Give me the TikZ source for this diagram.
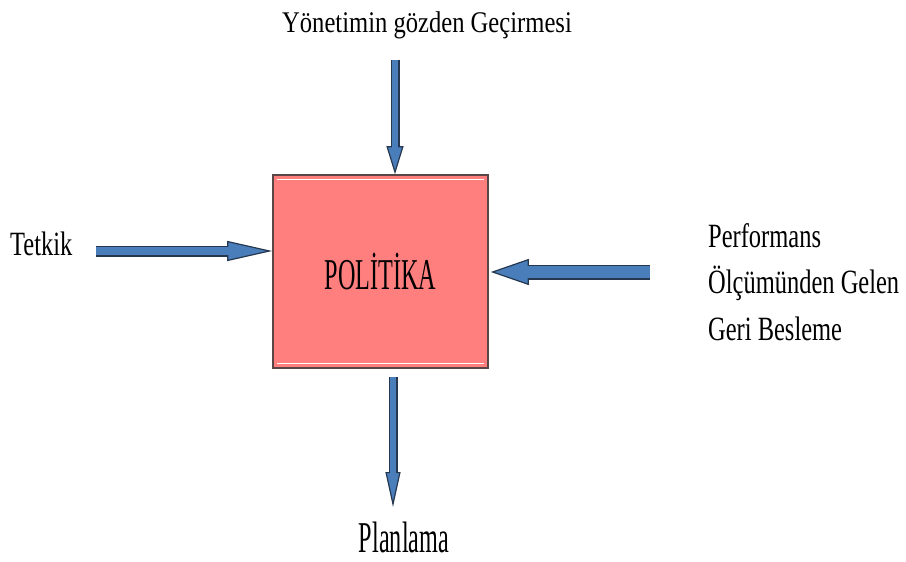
\documentclass[tikz,border=0pt]{standalone}
\usepackage{fontspec}
\setmainfont{Liberation Serif}
\newfontfamily\widefont[FakeStretch=0.82]{Liberation Serif}
\newfontfamily\condfont[FakeStretch=0.72]{Liberation Serif}
\newfontfamily\slimfont[FakeStretch=0.55]{Liberation Serif}
\usetikzlibrary{arrows.meta, positioning}

\definecolor{arrowblue}{HTML}{4A7EBB}
\definecolor{arrowedge}{HTML}{26384F}
\definecolor{polred}{HTML}{FF7F7F}
\definecolor{poledge}{HTML}{5A4646}

\begin{document}
\begin{tikzpicture}[x=1pt, y=-1pt, inner sep=0pt,
    lbl/.style={font=\condfont\fontsize{34}{46.5}\selectfont, align=left},
    polbox/.style={rectangle, draw=poledge, line width=1.6pt, fill=polred, minimum width=215pt, minimum height=193pt, font=\slimfont\fontsize{44}{50}\selectfont},
    blockarrow/.style n args={3}{preaction={draw=arrowedge, line width=#1+2.4pt, shorten >=0pt,
        -{Triangle[length=#2, width=#3, line width=1.2pt, fill=arrowblue]}},
        draw=arrowblue, line width=#1, shorten >=#2-1.5pt}]
    \useasboundingbox (0,0) rectangle (906,562);
    \node[polbox] (pol) at (380.5,271.5) {POLİTİKA};
    \draw[white, line width=1.3pt] ([xshift=5pt, yshift=-5pt]pol.north west) -- ([xshift=-5pt, yshift=-5pt]pol.north east);
    \draw[white, line width=1.3pt] ([xshift=5pt, yshift=5pt]pol.south west) -- ([xshift=-5pt, yshift=5pt]pol.south east);

    \node[lbl, font=\widefont\fontsize{30}{36}\selectfont, anchor=base] (yon) at (427,32) {Yönetimin gözden Geçirmesi};
    \node[lbl, anchor=base west] (tet) at (10,255) {Tetkik};
    \node[lbl, anchor=base west] (perf) at (708,340) {Performans\\Ölçümünden Gelen\\Geri Besleme};
    \node[lbl, font=\slimfont\fontsize{44}{50}\selectfont, anchor=base] (plan) at (404,552) {Planlama};

    % free ends of the arrows
    \coordinate (yt) at (395,60);
    \coordinate (tt) at (96,251);
    \coordinate (pf) at (650,272);
    \coordinate (ps) at (393,377);
    \coordinate (pl) at (393,507);

    \draw[blockarrow={6.6pt}{28pt}{17pt}] (yt) -- (yt |- pol.north);
    \draw[blockarrow={8.6pt}{45pt}{20pt}] (tt) -- (tt -| pol.west);
    \draw[blockarrow={12.6pt}{38pt}{26pt}] (pf) -- ([xshift=2pt]pol.east |- pf);
    \draw[blockarrow={6.6pt}{35pt}{15pt}] (ps) -- (pl);
\end{tikzpicture}
\end{document}
